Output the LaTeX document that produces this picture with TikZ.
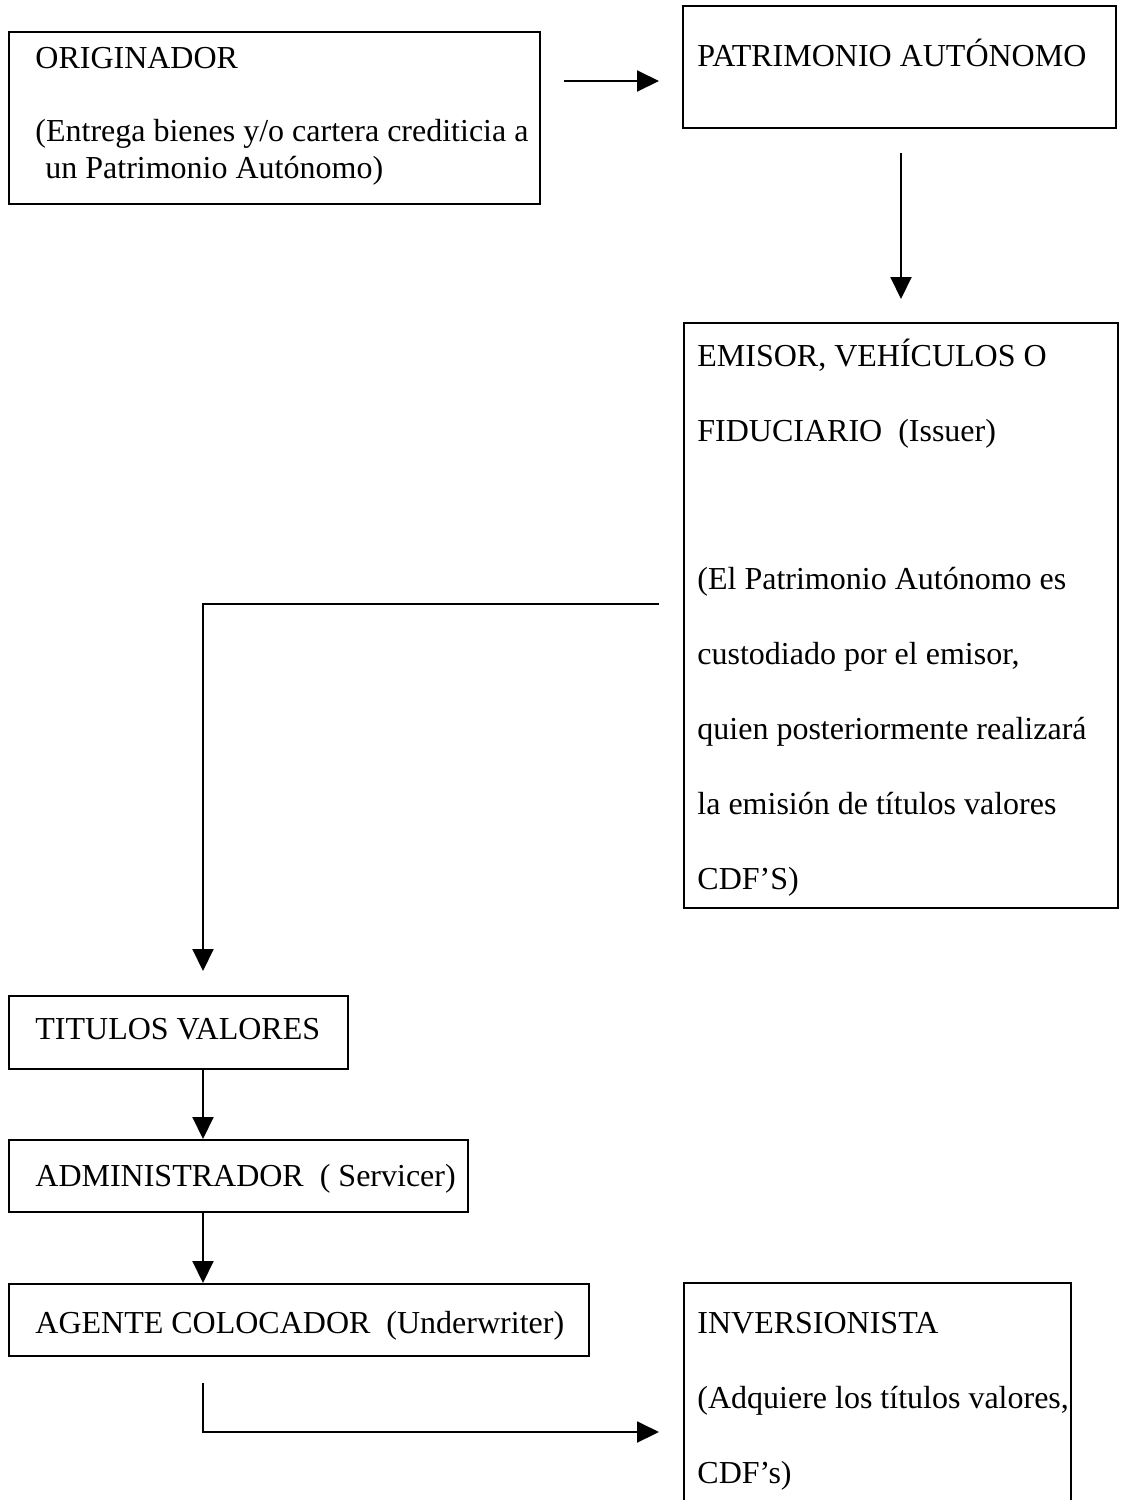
\documentclass[tikz,border=0pt]{standalone}
\usepackage{fontspec}
\setmainfont{Liberation Serif}
\usetikzlibrary{arrows.meta}

\tikzset{
  box/.style={draw, line width=1pt, inner sep=0pt},
  txt/.style={anchor=base west, inner sep=0pt,
    font=\fontsize{16pt}{18pt}\selectfont},
  flow/.style={line width=1pt, -{Triangle[length=11pt,width=10.5pt]}}
}

\begin{document}
\begin{tikzpicture}[x=0.5pt, y=-0.5pt]
    \useasboundingbox (0,0) rectangle (1127,1500);

    % boxes
    \node[box, minimum width=265.5pt, minimum height=86pt] (orig) at (274.5,118) {};
    \node[box, minimum width=216.5pt, minimum height=61pt] (patri) at (899.5,67) {};
    \node[box, minimum width=217pt, minimum height=292.5pt] (emisor) at (901,615.5) {};
    \node[box, minimum width=169.5pt, minimum height=36.5pt] (titulos) at (178.5,1032.5) {};
    \node[box, minimum width=229.5pt, minimum height=36pt] (admin) at (238.5,1176) {};
    \node[box, minimum width=290pt, minimum height=36pt] (agente) at (299,1320) {};
    \node[box, minimum width=193.5pt, minimum height=149pt] (invers) at (877.5,1432) {};

    % texts
    \node[txt] (orig-a) at (35,68) {ORIGINADOR};
    \node[txt] (orig-b) at (35,141) {(Entrega bienes y/o cartera crediticia a};
    \node[txt] (orig-c) at (45,178) {un Patrimonio Autónomo)};
    \node[txt] (patri-a) at (697,66) {PATRIMONIO AUTÓNOMO};
    \node[txt] (emi-a) at (697,366) {EMISOR, VEHÍCULOS O};
    \node[txt] (emi-b) at (697,441) {FIDUCIARIO\ \ (Issuer)};
    \node[txt] (emi-c) at (697,589) {(El Patrimonio Autónomo es};
    \node[txt] (emi-d) at (697,664) {custodiado por el emisor,};
    \node[txt] (emi-e) at (697,739) {quien posteriormente realizará};
    \node[txt] (emi-f) at (697,814) {la emisión de títulos valores};
    \node[txt] (emi-g) at (697,889) {CDF’S)};
    \node[txt] (tit-a) at (35,1039) {TITULOS VALORES};
    \node[txt] (adm-a) at (35,1186) {ADMINISTRADOR\ \ ( Servicer)};
    \node[txt] (age-a) at (35,1333) {AGENTE COLOCADOR\ \ (Underwriter)};
    \node[txt] (inv-a) at (697,1333) {INVERSIONISTA};
    \node[txt] (inv-b) at (697,1408) {(Adquiere los títulos valores,};
    \node[txt] (inv-c) at (697,1483) {CDF’s)};

    \coordinate (spine) at (203,0);

    % arrows
    \draw[flow] ([xshift=11.5pt,yshift=-25pt]orig.north east)
      -- ([xshift=-11.5pt,yshift=-25pt]orig.north east -| patri.west);
    \draw[flow] ([xshift=0.75pt,yshift=-12pt]patri.south) -- ([yshift=11.5pt]emisor.north);
    \draw[flow] ([xshift=-12pt,yshift=5.75pt]emisor.west)
      -| ([yshift=12pt]titulos.north -| spine);
    \draw[flow] (titulos.south -| spine) -- (admin.north -| spine);
    \draw[flow] (admin.south -| spine) -- (agente.north -| spine);
    \draw[flow] ([yshift=-13pt]agente.south -| spine) |- ([xshift=-12pt]invers.west);
\end{tikzpicture}
\end{document}
